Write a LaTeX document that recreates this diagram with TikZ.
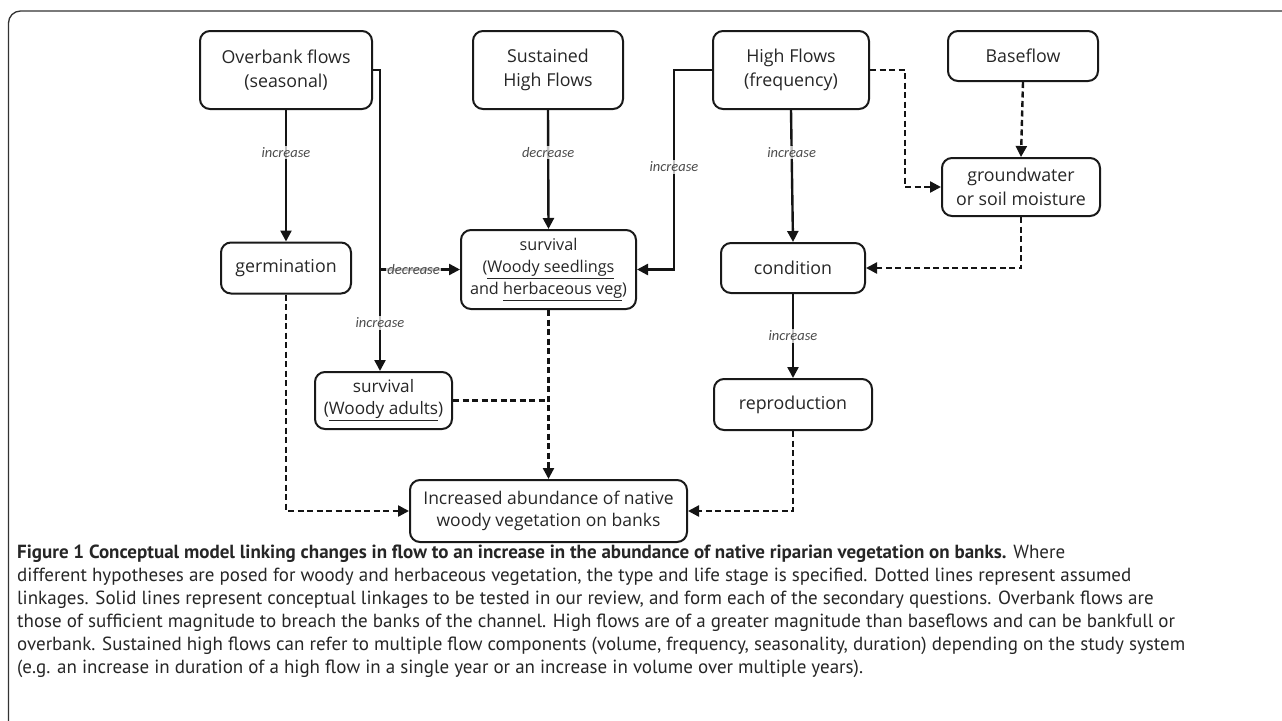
\documentclass[tikz,border=0pt]{standalone}
\usepackage{fontspec}
\setmainfont{Open Sans}
\newfontfamily\capfont{PT Sans}
\newfontfamily\labfont{Carlito}
\usetikzlibrary{arrows.meta,calc}
\begin{document}
\begin{tikzpicture}[x=1pt,y=-1pt,
  box/.style={draw=black!90,line width=2pt,rounded corners=10pt,align=center,
    font=\fontsize{17.8}{24.5}\selectfont,inner sep=0pt,text=black!85},
  link/.style={draw=black!92,line width=2.4pt,-{Triangle[length=11pt,width=11pt]}},
  dlink/.style={link,dash pattern=on 6pt off 3.5pt},
  dline/.style={draw=black!92,line width=2.4pt,dash pattern=on 6pt off 3.5pt},
  lab/.style={font=\labfont\itshape\fontsize{14.5}{16}\selectfont,text=black!70,fill=white,
    fill opacity=0.75,text opacity=1,inner sep=1.5pt},
  capline/.style={anchor=base west,inner sep=0pt,text=black!85,
    font=\capfont\fontsize{19}{22}\selectfont}
]
\useasboundingbox (0,0) rectangle (1282,720);
\begin{scope}
  \clip (0,0) rectangle (1282,720);
  \draw[line width=1.3pt,draw=black!80,rounded corners=12pt] (8.5,11) rectangle (1320,760);
\end{scope}

% nodes
\node[box,minimum width=172pt,minimum height=78pt] (ob) at (286,70) {Overbank flows\\(seasonal)};
\node[box,minimum width=150pt,minimum height=78pt] (shf) at (548,70) {Sustained\\High Flows};
\node[box,minimum width=156pt,minimum height=78pt] (hf) at (791,70) {High Flows\\(frequency)};
\node[box,minimum width=150pt,minimum height=50pt] (bf) at (1023,56) {Baseflow};
\node[box,minimum width=158pt,minimum height=58pt] (gw) at (1021,187) {groundwater\\or soil moisture};
\node[box,minimum width=130pt,minimum height=51pt] (germ) at (286,268) {germination};
\node[box,minimum width=175pt,minimum height=79pt,font=\fontsize{16.2}{22}\selectfont] (ss) at (548.5,269.5) {survival\\(\underline{Woody seedlings}\\and \underline{herbaceous veg})};
\node[box,minimum width=144pt,minimum height=50pt] (cond) at (793,268) {condition};
\node[box,minimum width=137pt,minimum height=57pt,font=\fontsize{17.2}{22}\selectfont] (sa) at (383.5,400.5) {survival\\(\underline{Woody adults})};
\node[box,minimum width=158pt,minimum height=51pt] (rep) at (793,404.5) {reproduction};
\node[box,minimum width=277pt,minimum height=62pt,font=\fontsize{17.5}{22}\selectfont] (inc) at (548.5,511) {Increased abundance of native\\woody vegetation on banks};

\coordinate (obx) at (380,70);
\coordinate (hfx) at (674,70);
\coordinate (hfd) at (905,70);

% solid links
\draw[link] (ob.south) -- node[lab,pos=0.32]{increase} (germ.north);
\draw[link] (ob.east) -- (obx) -- (obx |- sa.north);
\node[lab] at (380,323) {increase};
\draw[link] (obx |- ss.west) -- node[lab,pos=0.42]{decrease} (ss.west);
\draw[link] (shf.south) -- node[lab,pos=0.36]{decrease} (ss.north);
\draw[link] (hf.west) -- (hfx) -- (hfx |- ss.east) -- (ss.east);
\node[lab] at (674,167) {increase};
\draw[link] (hf.south) -- node[lab,pos=0.32]{increase} (cond.north);
\draw[link] (cond.south) -- node[lab,pos=0.5]{increase} (rep.north);

% dashed links
\draw[dlink] (hf.east) -- (hfd) -- (hfd |- gw.west) -- (gw.west);
\draw[dlink] (bf.south) -- (gw.north);
\draw[dlink] (gw.south) -- (gw.south |- cond.east) -- (cond.east);
\draw[dline] (sa.east) -- (ss.south |- sa.east);
\draw[dlink] (ss.south) -- (inc.north);
\draw[dlink] (germ.south) -- (germ.south |- inc.west) -- (inc.west);
\draw[dlink] (rep.south) -- (rep.south |- inc.east) -- (inc.east);

% caption
\node[capline] (c1) at (17,558) {\textbf{Figure 1 Conceptual model linking changes in flow to an increase in the abundance of native riparian vegetation on banks.} Where};
\node[capline] (c2) at (17,581) {different hypotheses are posed for woody and herbaceous vegetation, the type and life stage is specified. Dotted lines represent assumed};
\node[capline] (c3) at (17,604) {linkages. Solid lines represent conceptual linkages to be tested in our review, and form each of the secondary questions. Overbank flows are};
\node[capline] (c4) at (17,627) {those of sufficient magnitude to breach the banks of the channel. High flows are of a greater magnitude than baseflows and can be bankfull or};
\node[capline] (c5) at (17,650) {overbank. Sustained high flows can refer to multiple flow components (volume, frequency, seasonality, duration) depending on the study system};
\node[capline] (c6) at (17,673) {(e.g. an increase in duration of a high flow in a single year or an increase in volume over multiple years).};
\end{tikzpicture}
\end{document}
